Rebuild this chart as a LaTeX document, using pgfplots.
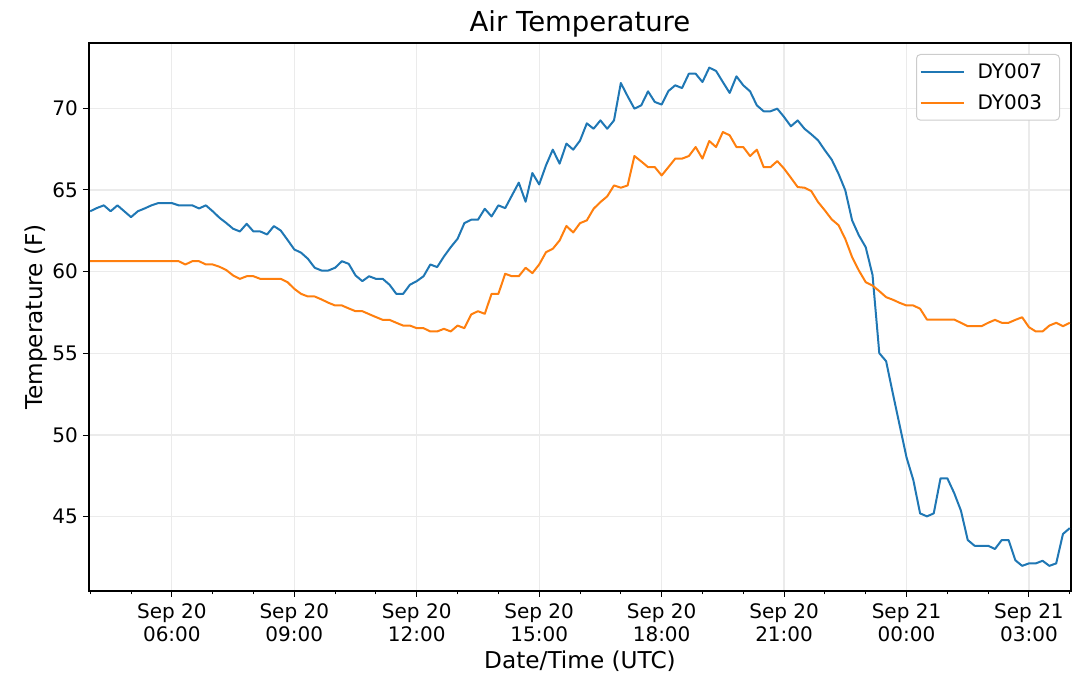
\documentclass[border=0pt]{standalone}
\usepackage{pgfplots}
\pgfplotsset{compat=1.18}
\usepackage{pgfplotstable}
\usepackage{fontspec}
\setmainfont{DejaVu Sans}
\definecolor{mplblue}{HTML}{1F77B4}
\definecolor{mplorange}{HTML}{FF7F0E}
\definecolor{gridgray}{HTML}{EBEBEB}
\pgfplotstableread{
h b o
4.000 63.70 60.64
4.167 63.90 60.64
4.333 64.06 60.64
4.500 63.70 60.64
4.667 64.06 60.64
4.833 63.70 60.64
5.000 63.34 60.64
5.167 63.70 60.64
5.333 63.87 60.64
5.500 64.06 60.64
5.667 64.20 60.64
5.833 64.20 60.64
6.000 64.20 60.64
6.167 64.06 60.64
6.333 64.06 60.44
6.500 64.06 60.64
6.667 63.87 60.64
6.833 64.06 60.44
7.000 63.70 60.44
7.167 63.30 60.30
7.333 62.98 60.10
7.500 62.63 59.77
7.667 62.46 59.56
7.833 62.93 59.72
8.000 62.46 59.72
8.167 62.46 59.56
8.333 62.28 59.56
8.500 62.79 59.56
8.667 62.52 59.56
8.833 61.95 59.36
9.000 61.36 58.95
9.167 61.16 58.64
9.333 60.79 58.48
9.500 60.24 58.48
9.667 60.07 58.30
9.833 60.07 58.10
10.000 60.24 57.93
10.167 60.64 57.93
10.333 60.48 57.75
10.500 59.77 57.58
10.667 59.42 57.58
10.833 59.72 57.40
11.000 59.56 57.22
11.167 59.56 57.05
11.333 59.20 57.05
11.500 58.64 56.87
11.667 58.64 56.70
11.833 59.20 56.70
12.000 59.42 56.54
12.167 59.72 56.54
12.333 60.44 56.34
12.500 60.28 56.34
12.667 60.93 56.50
12.833 61.50 56.34
13.000 62.01 56.70
13.167 62.97 56.54
13.333 63.18 57.38
13.500 63.18 57.58
13.667 63.85 57.42
13.833 63.38 58.64
14.000 64.06 58.64
14.167 63.89 59.87
14.333 64.67 59.72
14.500 65.45 59.72
14.667 64.28 60.24
14.833 66.04 59.91
15.000 65.34 60.44
15.167 66.51 61.19
15.333 67.47 61.40
15.500 66.61 61.91
15.667 67.84 62.80
15.833 67.47 62.40
16.000 68.02 62.97
16.167 69.08 63.14
16.333 68.75 63.85
16.500 69.26 64.26
16.667 68.75 64.61
16.833 69.26 65.28
17.000 71.55 65.14
17.167 70.74 65.28
17.333 69.98 67.08
17.500 70.18 66.75
17.667 71.04 66.40
17.833 70.39 66.40
18.000 70.23 65.89
18.167 71.06 66.40
18.333 71.41 66.92
18.500 71.24 66.92
18.667 72.12 67.08
18.833 72.12 67.63
19.000 71.61 66.92
19.167 72.49 68.00
19.333 72.29 67.63
19.500 71.61 68.55
19.667 70.94 68.35
19.833 71.96 67.63
20.000 71.41 67.63
20.167 71.04 67.08
20.333 70.18 67.47
20.500 69.82 66.40
20.667 69.82 66.40
20.833 69.98 66.77
21.000 69.47 66.31
21.167 68.90 65.75
21.333 69.26 65.18
21.500 68.75 65.14
21.667 68.41 64.93
21.833 68.04 64.26
22.000 67.43 63.75
22.167 66.86 63.20
22.333 66.00 62.85
22.500 64.98 62.00
22.667 63.14 60.89
22.833 62.22 60.07
23.000 61.50 59.36
23.167 59.80 59.15
23.333 55.01 58.81
23.500 54.52 58.44
23.667 52.52 58.28
23.833 50.58 58.09
24.000 48.63 57.93
24.167 47.24 57.93
24.333 45.20 57.73
24.500 45.02 57.07
24.667 45.20 57.07
24.833 47.35 57.07
25.000 47.35 57.07
25.167 46.45 57.07
25.333 45.37 56.87
25.500 43.57 56.66
25.667 43.22 56.66
25.833 43.22 56.66
26.000 43.22 56.87
26.167 43.02 57.05
26.333 43.57 56.87
26.500 43.57 56.87
26.667 42.33 57.05
26.833 41.99 57.21
27.000 42.14 56.60
27.167 42.14 56.34
27.333 42.30 56.34
27.500 41.99 56.70
27.667 42.14 56.87
27.833 43.94 56.66
28.000 44.30 56.87
}\datatable
\begin{document}
\begin{tikzpicture}
\path[use as bounding box] (-89pt,-86pt) rectangle (991pt,591pt);
\begin{axis}[
  at={(0pt,0pt)}, anchor=south west,
  scale only axis, width=982pt, height=548pt,
  xmin=3.97, xmax=28.03, ymin=40.45, ymax=74.0,
  xtick={6,9,12,15,18,21,24,27},
  xticklabels={{Sep 20\\06:00},{Sep 20\\09:00},{Sep 20\\12:00},{Sep 20\\15:00},{Sep 20\\18:00},{Sep 20\\21:00},{Sep 21\\00:00},{Sep 21\\03:00}},
  minor xtick={4,5,7,8,10,11,13,14,16,17,19,20,22,23,25,26,28},
  ytick={45,50,55,60,65,70},
  tick align=outside,
  major tick length=6pt, minor tick length=3.5pt,
  tick style={black, line width=1pt},
  xtick pos=bottom, ytick pos=left,
  grid=major,
  major grid style={gridgray, line width=1.2pt},
  axis line style={black, line width=1.2pt},
  /pgf/number format/assume math mode=true,
  ticklabel style={font=\fontsize{20}{23.3}\selectfont},
  xticklabel style={align=center, anchor=north, inner sep=0pt, yshift=-6pt},
  yticklabel style={anchor=east, inner sep=0pt, xshift=-5pt},
  title={Air Temperature},
  title style={at={(0.5,1)}, anchor=base, yshift=5pt, font=\fontsize{27.5}{30}\selectfont, inner sep=0pt},
  xlabel={Date/Time (UTC)},
  xlabel style={at={(axis description cs:0.5,0)}, anchor=base, yshift=-77.5pt, font=\fontsize{23.2}{26}\selectfont, inner sep=0pt},
  ylabel={Temperature (F)},
  ylabel style={at={(axis description cs:-0.0535,0.5)}, anchor=center, font=\fontsize{23.2}{26}\selectfont, inner sep=0pt},
  legend style={at={(1,1)}, anchor=north east, xshift=-11pt, yshift=-11pt,
    draw=black!20, line width=1pt, rounded corners=4pt, fill=white,
    font=\fontsize{20}{24}\selectfont, inner xsep=3pt, inner ysep=6pt,
    row sep=9pt, nodes={inner sep=3pt}},
  legend cell align=left,
  legend image code/.code={\draw[#1] (0pt,0pt) -- (43pt,0pt);},
]
\addplot[mplblue, line width=2pt, line join=round] table[x=h, y=b] {\datatable};
\addlegendentry{\makebox[86pt][l]{\hspace*{10pt}DY007}}
\addplot[mplorange, line width=2pt, line join=round] table[x=h, y=o] {\datatable};
\addlegendentry{\makebox[86pt][l]{\hspace*{10pt}DY003}}
\end{axis}
\end{tikzpicture}
\end{document}
